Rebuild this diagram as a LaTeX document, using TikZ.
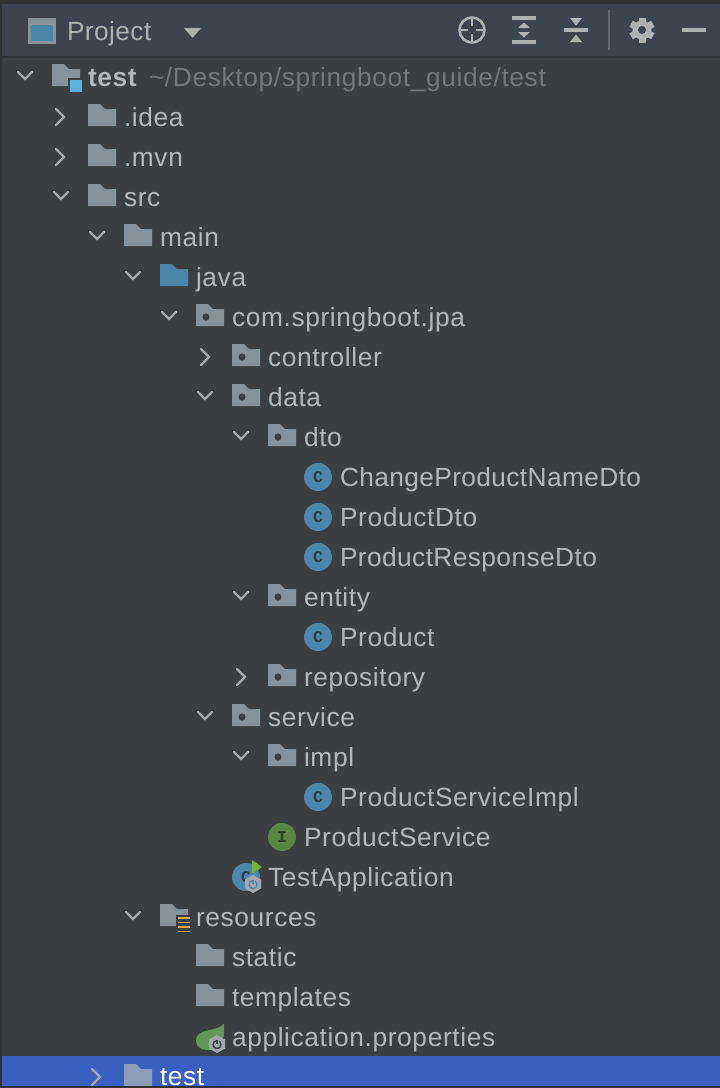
\documentclass[tikz,border=0pt]{standalone}
\usepackage{fontspec}
\setmainfont[LetterSpace=2.4]{Liberation Sans}
\newfontfamily\iconfont{Liberation Mono}
\definecolor{bgmain}{HTML}{3C3F41}
\definecolor{bghead}{HTML}{3D4450}
\definecolor{edge}{HTML}{323232}
\definecolor{sel}{HTML}{3A60C2}
\definecolor{foldgrey}{HTML}{87939A}
\definecolor{foldblue}{HTML}{4A86A8}
\definecolor{foldsel}{HTML}{8B9DB8}
\definecolor{txt}{HTML}{B5B8BA}
\definecolor{txtdim}{HTML}{75787A}
\definecolor{icongrey}{HTML}{AFB1B3}
\definecolor{chev}{HTML}{A6A8AA}
\definecolor{classblue}{HTML}{4C87AB}
\definecolor{classdark}{HTML}{2C3D49}
\definecolor{ifgreen}{HTML}{5B8544}
\definecolor{ifdark}{HTML}{2F3B28}
\definecolor{runGreen}{HTML}{6FB53E}
\definecolor{hexgrey}{HTML}{A2A8AE}
\definecolor{leaf}{HTML}{629755}
\definecolor{orangeic}{HTML}{E0AC4E}
\definecolor{lightblue}{HTML}{5CB1DE}
\tikzset{
  rowtext/.style={anchor=base west,inner sep=0pt,outer sep=0pt,text=txt,font=\fontsize{26.3}{30}\selectfont},
  classic/.style={circle,fill=classblue,inner sep=0pt,minimum size=28pt,text=classdark,font=\iconfont\bfseries\fontsize{16.5}{17}\selectfont},
  ifaceic/.style={classic,fill=ifgreen,text=ifdark},
  chevline/.style={draw=chev,line width=2.2pt,line cap=round,line join=miter},
  barline/.style={fill=icongrey}
}
\newcommand{\Fold}[3]{\fill[#3,shift={({#1},{77+40*#2})}] (0,-13) -- (12,-13) -- (17,-8) -- (28,-8) -- (28,9) -- (0,9) -- cycle;}
\newcommand{\PkgFold}[2]{\Fold{#1}{#2}{foldgrey}\fill[bgmain] ({#1+10},{77+40*#2}) circle (3.6);}
\newcommand{\ChD}[2]{\draw[chevline,shift={({#1},{77+40*#2})}] (-7,-5) -- (0,2) -- (7,-5);}
\newcommand{\ChR}[2]{\draw[chevline,shift={({#1},{77+40*#2})}] (-4,-8) -- (4,0) -- (-4,8);}
\newcommand{\Txt}[4]{\node[rowtext] (#1) at ({#2},{86+40*#3}) {#4};}
\newcommand{\HexIc}[3]{\fill[hexgrey,shift={({#1},{#2})}] (0,-9) -- (8,-4.5) -- (8,4.5) -- (0,9) -- (-8,4.5) -- (-8,-4.5) -- cycle;
  \draw[#3,line width=1.4pt,shift={({#1},{#2})}] (0,0.5) circle (4);
  \draw[hexgrey,line width=3pt,shift={({#1},{#2})}] (0,-4.5) -- (0,-2);
  \draw[#3,line width=1.4pt,shift={({#1},{#2})}] (0,-4.5) -- (0,0);}
\begin{document}
\begin{tikzpicture}[x=1pt,y=-1pt]
\useasboundingbox (0,0) rectangle (720,1088);
\fill[bgmain] (0,0) rectangle (720,1088);
\fill[bghead] (0,4) rectangle (720,56);
\fill[edge] (0,0) rectangle (720,4);
\fill[edge] (0,56) rectangle (720,58);
\fill[sel] (0,1056) rectangle (720,1088);
% header icons
\fill[foldgrey] (28,18) rectangle (56,44);
\fill[foldblue] (31,25) rectangle (53,41);
\node[rowtext,text=icongrey] (projtitle) at (67,40) {\addfontfeature{LetterSpace=1.6}Project};
\fill[icongrey] (184,28) -- (201,28) -- (192.5,38) -- cycle;
\draw[icongrey,line width=2.6pt] (472,30) circle (12.5);
\foreach \a in {0,90,180,270}{\draw[icongrey,line width=2.6pt,rotate around={\a:(472,30)}] (472,17.5) -- (472,26);}
\fill[barline] (512,16) rectangle (536,20);
\fill[barline] (512,40) rectangle (536,44);
\fill[barline] (518,28) -- (530,28) -- (524,22.5) -- cycle;
\fill[barline] (518,32) -- (530,32) -- (524,37.5) -- cycle;
\fill[barline] (564,28) rectangle (588,32);
\fill[barline] (570,18) -- (582,18) -- (576,25.5) -- cycle;
\fill[barline] (570,42) -- (582,42) -- (576,34.5) -- cycle;
\fill[txtdim!70!bghead] (608,10) rectangle (610,50);
\foreach \a in {0,60,...,300}{\fill[icongrey,rotate around={\a:(642,30)}] (638.5,17.5) rectangle (645.5,24);}
\fill[icongrey] (642,30) circle (9.5);
\fill[bghead] (642,30) circle (4);
\fill[barline] (682,28) rectangle (706,32);

% ---- tree ----
\ChD{25}{0}
\Fold{52}{0}{foldgrey}
\fill[bgmain] (68,78) rectangle (84,94);
\fill[lightblue] (70,80) rectangle (82,92);
\node[rowtext,font=\fontsize{26.3}{30}\selectfont\bfseries] (roottest) at (88,86) {test};
\node[rowtext,text=txtdim,anchor=base west] (rootpath) at (149,86) {\textasciitilde/Desktop/springboot\_guide/test};

\ChR{60}{1} \Fold{88}{1}{foldgrey} \Txt{idea}{124}{1}{.idea}
\ChR{60}{2} \Fold{88}{2}{foldgrey} \Txt{mvn}{124}{2}{.mvn}
\ChD{61}{3} \Fold{88}{3}{foldgrey} \Txt{src}{124}{3}{src}
\ChD{97}{4} \Fold{124}{4}{foldgrey} \Txt{main}{160}{4}{main}
\ChD{133}{5} \Fold{160}{5}{foldblue} \Txt{java}{196}{5}{java}
\ChD{169}{6} \PkgFold{196}{6} \Txt{pkg}{232}{6}{com.springboot.jpa}
\ChR{205}{7} \PkgFold{232}{7} \Txt{controller}{268}{7}{controller}
\ChD{205}{8} \PkgFold{232}{8} \Txt{data}{268}{8}{data}
\ChD{241}{9} \PkgFold{268}{9} \Txt{dto}{304}{9}{dto}
\node[classic] (c1) at (318,477) {C}; \Txt{changedto}{340}{10}{\addfontfeature{LetterSpace=1.45}ChangeProductNameDto}
\node[classic] (c2) at (318,517) {C}; \Txt{productdto}{340}{11}{ProductDto}
\node[classic] (c3) at (318,557) {C}; \Txt{responsedto}{340}{12}{\addfontfeature{LetterSpace=1.55}ProductResponseDto}
\ChD{241}{13} \PkgFold{268}{13} \Txt{entity}{304}{13}{entity}
\node[classic] (c4) at (318,637) {C}; \Txt{product}{340}{14}{Product}
\ChR{241}{15} \PkgFold{268}{15} \Txt{repository}{304}{15}{repository}
\ChD{205}{16} \PkgFold{232}{16} \Txt{service}{268}{16}{service}
\ChD{241}{17} \PkgFold{268}{17} \Txt{impl}{304}{17}{impl}
\node[classic] (c5) at (318,797) {C}; \Txt{serviceimpl}{340}{18}{ProductServiceImpl}
\node[ifaceic] (i1) at (282,837) {I}; \Txt{productservice}{304}{19}{ProductService}
\node[classic] (c6) at (246,877) {C};
\fill[runGreen] (252,860) -- (262,867) -- (252,874) -- cycle;
\HexIc{253}{884}{classblue}
\Txt{testapp}{268}{20}{TestApplication}
\ChD{133}{21} \Fold{160}{21}{foldgrey}
\fill[bgmain] (176,915) rectangle (192,934);
\foreach \yy in {918,922.5,927,931.5}{\fill[orangeic] (178,\yy-0.9) rectangle (190,\yy+0.9);}
\Txt{resources}{196}{21}{resources}
\Fold{196}{22}{foldgrey} \Txt{static}{232}{22}{static}
\Fold{196}{23}{foldgrey} \Txt{templates}{232}{23}{templates}
% spring leaf
\fill[leaf] (224,1024) .. controls (224,1032) and (225,1040) .. (219,1046) .. controls (214,1050) and (207,1051) .. (202,1049) .. controls (195,1046) and (194,1038) .. (199,1034) .. controls (205,1029) and (216,1031) .. (224,1024) -- cycle;
\HexIc{217}{1044}{bgmain}
\Txt{appprops}{232}{24}{application.properties}
% selected row
\ChR{96}{25}
\Fold{124}{25}{foldsel}
\node[rowtext,text=white] (testdir) at (160,1085) {test};
\fill[edge] (0,1086) rectangle (720,1088);
\fill[edge] (0,0) rectangle (2,1088);
\end{tikzpicture}
\end{document}
